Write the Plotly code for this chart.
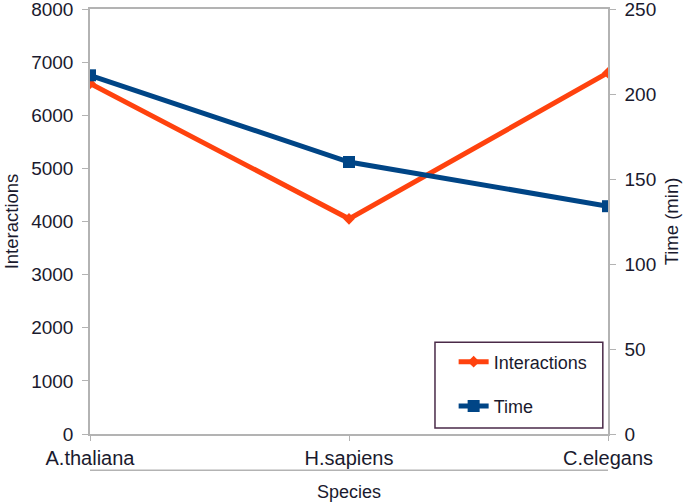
import plotly.graph_objects as go

species = ["A.thaliana", "H.sapiens", "C.elegans"]
interactions = [6600, 4050, 6800]
time_min = [211, 160, 134]

orange = "#FF420E"
blue = "#004586"
grid = "#B3B3B3"
txt = "#1a1a2e"
font = "Liberation Sans, Arial, sans-serif"

fig = go.Figure()
fig.add_trace(go.Scatter(
    x=species, y=interactions, name="Interactions", mode="lines+markers",
    line=dict(color=orange, width=5), marker=dict(symbol="diamond", size=9, color=orange),
    yaxis="y", legendgroup="a"))
fig.add_trace(go.Scatter(
    x=species, y=time_min, name="Time", mode="lines+markers",
    line=dict(color=blue, width=5), marker=dict(symbol="square", size=12, color=blue),
    yaxis="y2", legendgroup="b"))

fig.update_layout(
    width=685, height=504,
    margin=dict(l=90, r=77, t=9, b=70, autoexpand=False),
    paper_bgcolor="white", plot_bgcolor="white",
    font=dict(family=font, size=18, color=txt),
    showlegend=True,
    legend=dict(x=0.702, y=0.213, xanchor="left", yanchor="top",
                borderwidth=0, bgcolor="rgba(0,0,0,0)",
                font=dict(size=18, color=txt), tracegroupgap=18),
    xaxis=dict(range=[0, 2], showgrid=False, showline=True, linecolor=grid,
               linewidth=1.5, mirror=True, ticks="outside", ticklen=5,
               tickcolor=grid, automargin=False, ticklabeloverflow="allow",
               title=dict(text="Species", font=dict(size=18), standoff=18),
               zeroline=False, tickfont=dict(size=20)),
    yaxis=dict(range=[0, 8000], dtick=1000, showgrid=False, showline=True,
               linecolor=grid, linewidth=1.5, ticks="outside", ticklen=6,
               tickcolor=grid, automargin=False, ticklabelstandoff=5,
               ticklabeloverflow="allow",
               title=dict(text="Interactions", font=dict(size=18.5), standoff=8),
               zeroline=False, tickfont=dict(size=19)),
    yaxis2=dict(range=[0, 250], dtick=50, overlaying="y", side="right",
                showgrid=False, showline=True, linecolor=grid, linewidth=1.5,
                ticks="outside", ticklen=6, tickcolor=grid, automargin=False,
                ticklabelstandoff=5, ticklabeloverflow="allow",
                title=dict(text="Time (min)", font=dict(size=18.5), standoff=10),
                zeroline=False, tickfont=dict(size=19)),
)

fig.add_shape(type="line", xref="paper", yref="paper", x0=0, x1=1,
              y0=-0.085, y1=-0.085, line=dict(color=grid, width=1.5))
fig.add_shape(type="rect", xref="paper", yref="paper", x0=0.666, x1=0.990,
              y0=0.014, y1=0.216, line=dict(color="#4a2a48", width=1.5),
              fillcolor="white", layer="below")

fig.write_html("out.html", config={"displayModeBar": False},
               post_script="document.body.style.margin='0';document.body.style.overflow='hidden';")
